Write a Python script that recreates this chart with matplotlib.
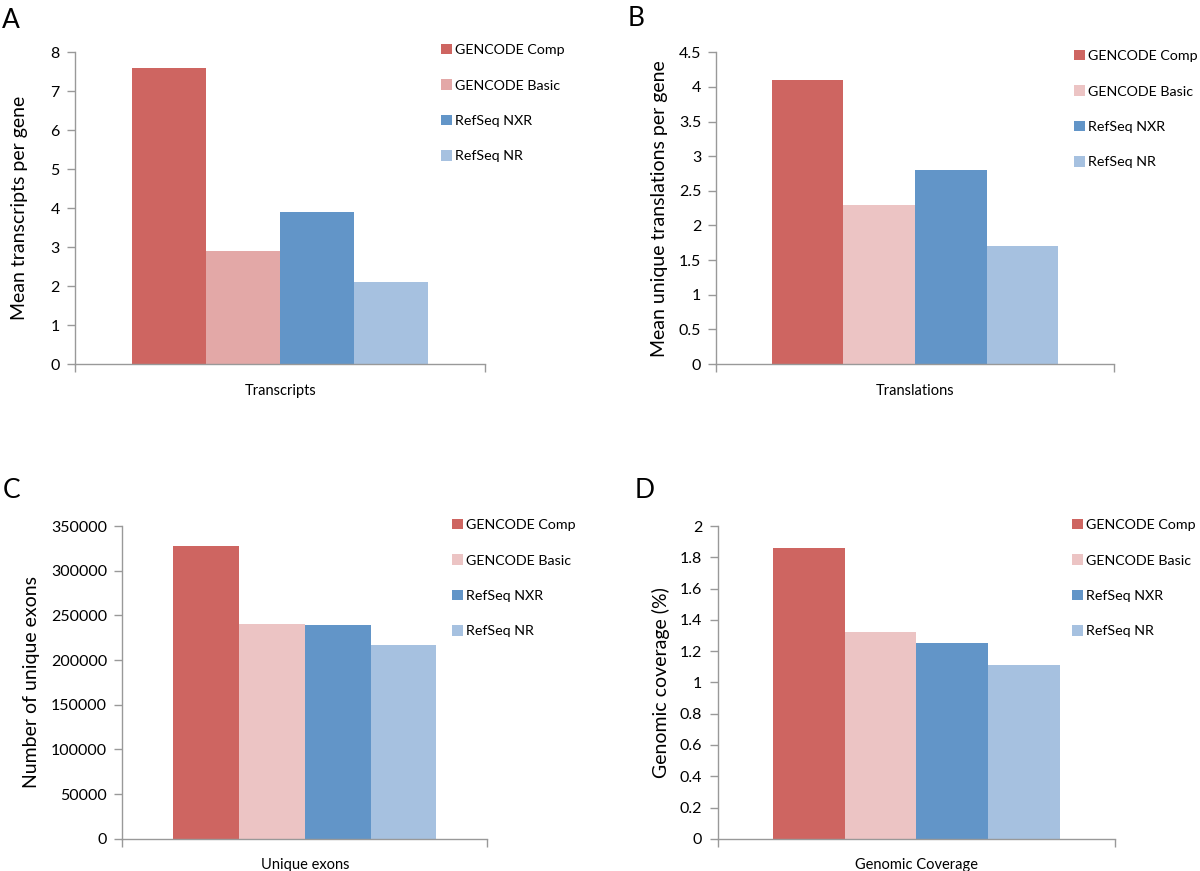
import matplotlib
matplotlib.use('Agg')
import matplotlib.pyplot as plt
from matplotlib.ticker import FuncFormatter
from matplotlib.patches import Patch

plt.rcParams['font.family'] = ['Lato', 'DejaVu Sans']

# data
series = ['GENCODE Comp', 'GENCODE Basic', 'RefSeq NXR', 'RefSeq NR']
transcripts = [7.6, 2.9, 3.9, 2.1]
translations = [4.1, 2.3, 2.8, 1.7]
exons = [328000, 240000, 239000, 217000]
coverage = [1.86, 1.32, 1.25, 1.11]

col_comp = '#CE6561'
col_basic_a = '#E3A8A7'
col_basic = '#ECC4C4'
col_nxr = '#6295C8'
col_nr = '#A6C1E0'

panels = [
    # letter, values, category, ylabel, ymax, ystep, axes rect, legend anchor, letter pos, ylabel x, basic colour
    ('A', transcripts, 'Transcripts', 'Mean transcripts per gene', 8, 1,
     [0.0625, 0.582, 0.342, 0.358], (441, 44), (2, 20), -0.115, col_basic_a),
    ('B', translations, 'Translations', 'Mean unique translations per gene', 4.5, 0.5,
     [0.597, 0.582, 0.331, 0.358], (1074, 50), (628, 18), -0.121, col_basic),
    ('C', exons, 'Unique exons', 'Number of unique exons', 350000, 50000,
     [0.102, 0.037, 0.304, 0.359], (452, 519), (3, 490), -0.225, col_basic),
    ('D', coverage, 'Genomic Coverage', 'Genomic coverage (%)', 2, 0.2,
     [0.598, 0.037, 0.331, 0.359], (1072, 519), (635, 490), -0.121, col_basic),
]

W, H = 1200, 871
fig = plt.figure(figsize=(12, 8.71), dpi=100)

for letter, vals, cat, ylab, ymax, ystep, rect, leg, lpos, ylx, cbasic in panels:
    ax = fig.add_axes(rect)
    cols = [col_comp, cbasic, col_nxr, col_nr]
    for i in range(4):
        ax.bar(i, vals[i], width=1.0, color=cols[i], linewidth=0)
    ax.set_xlim(-1.27, 4.27)
    ax.set_ylim(0, ymax)
    n = int(round(ymax / ystep))
    ax.set_yticks([k * ystep for k in range(n + 1)])
    ax.yaxis.set_major_formatter(FuncFormatter(lambda v, p: '%g' % round(v, 6) if v < 1000 else '%d' % v))
    ax.set_xticks([-1.27, 4.27])
    ax.set_xticklabels(['', ''])
    ax.set_xticks([1.5], minor=True)
    ax.set_xticklabels([cat], minor=True, fontsize=10.5)
    ax.tick_params(axis='x', which='minor', length=0, pad=14)
    ax.tick_params(axis='x', which='major', length=6, width=1, color='#999999', direction='out')
    ax.tick_params(axis='y', length=6, width=1, color='#999999', direction='out', labelsize=11.5, pad=5)
    for s in ['top', 'right']:
        ax.spines[s].set_visible(False)
    for s in ['left', 'bottom']:
        ax.spines[s].set_color('#999999')
        ax.spines[s].set_linewidth(1)
    ax.set_ylabel(ylab, fontsize=14)
    ax.yaxis.set_label_coords(ylx, 0.5)

    handles = [Patch(facecolor=c, edgecolor='none') for c in cols]
    fig.legend(handles, series, loc='upper left',
               bbox_to_anchor=(leg[0] / W, 1 - leg[1] / H),
               frameon=False, fontsize=10.3, borderpad=0, borderaxespad=0,
               handlelength=0.75, handleheight=0.75, handletextpad=0.2,
               labelspacing=1.62)
    fig.text(lpos[0] / W, 1 - lpos[1] / H, letter, fontsize=19, va='center', ha='left')

fig.savefig('out.png', dpi=100)
